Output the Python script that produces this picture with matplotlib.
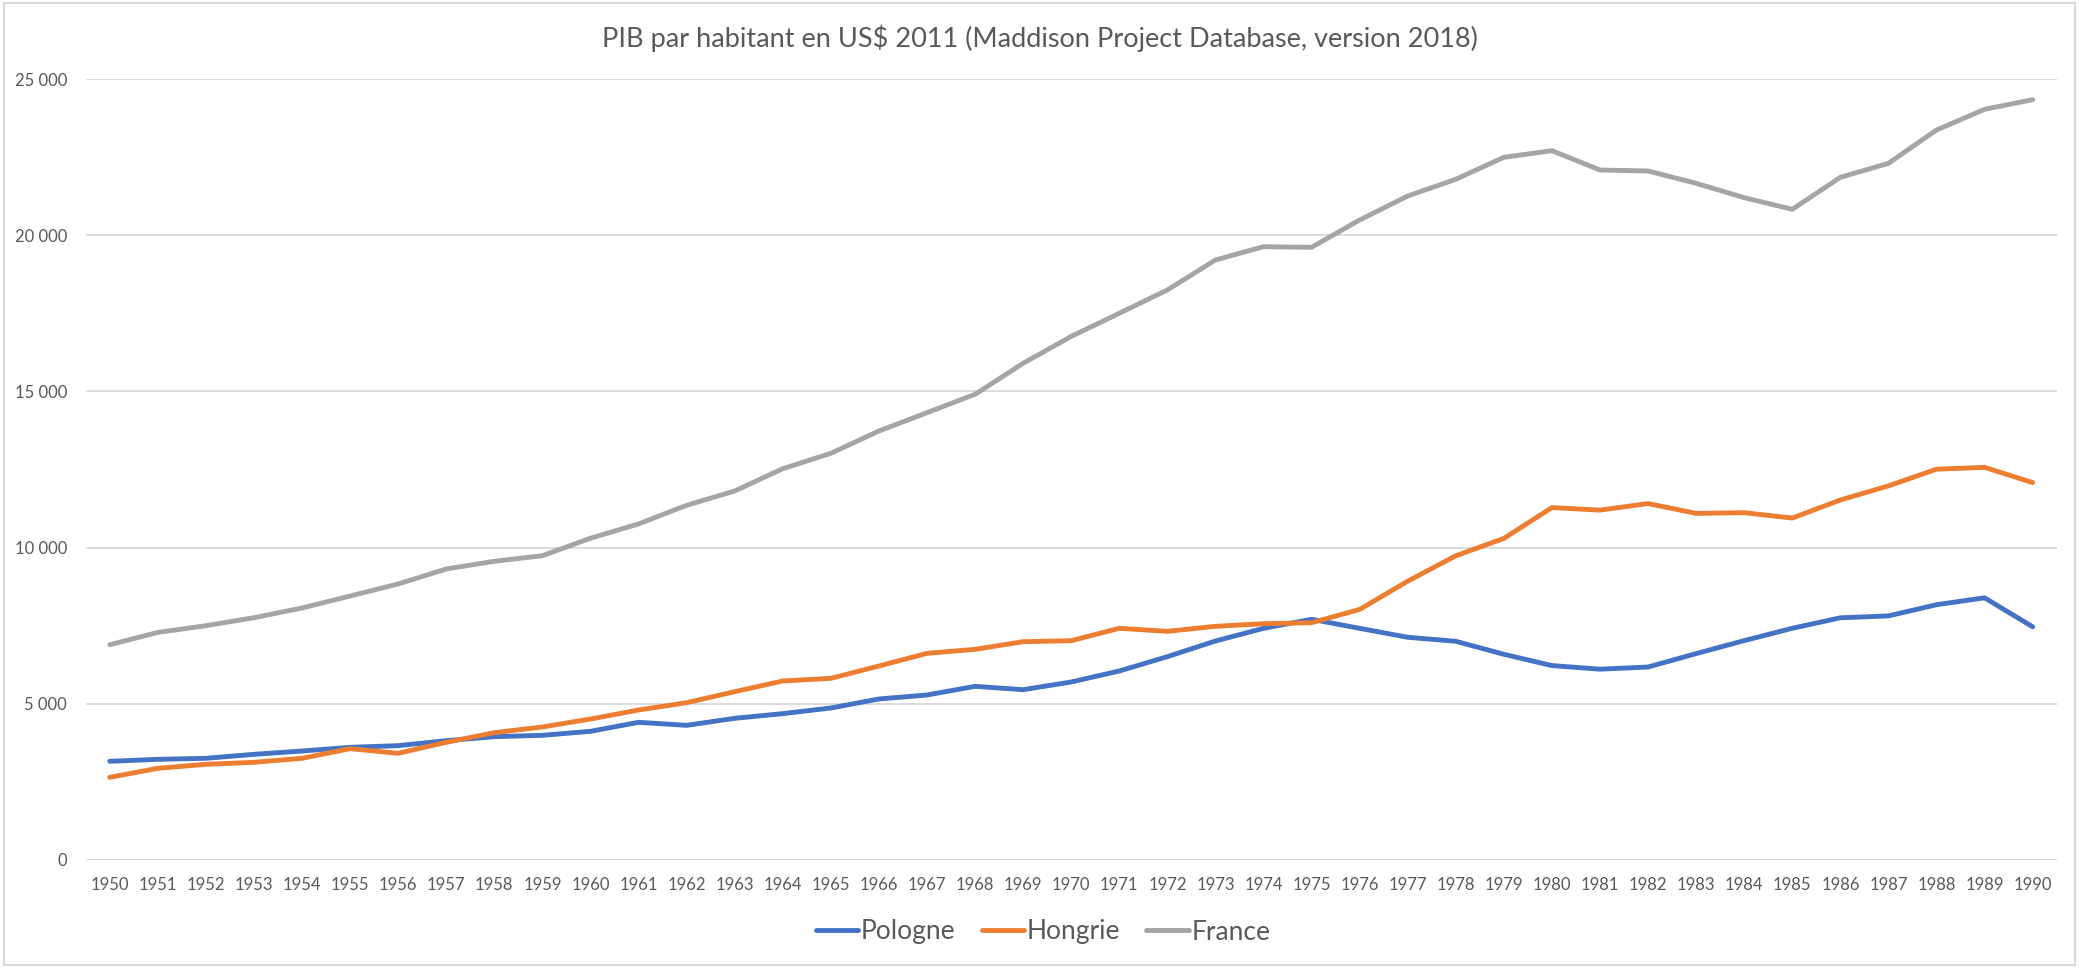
import matplotlib
matplotlib.use("Agg")
import matplotlib.pyplot as plt
from matplotlib.patches import Rectangle
from matplotlib.ticker import FuncFormatter, MultipleLocator

# Donnees (PIB par habitant, US$ 2011)
annees = list(range(1950, 1991))

pologne = [3159, 3223, 3255, 3383, 3489, 3607, 3660, 3820, 3948, 3991,
           4119, 4407, 4311, 4535, 4685, 4866, 5154, 5282, 5559, 5452,
           5698, 6050, 6509, 7010, 7416, 7705, 7416, 7129, 7001, 6585,
           6223, 6108, 6178, 6607, 7023, 7417, 7753, 7814, 8172, 8393,
           7465]

hongrie = [2646, 2935, 3063, 3127, 3255, 3564, 3415, 3767, 4076, 4258,
           4513, 4801, 5036, 5388, 5730, 5815, 6210, 6615, 6743, 6988,
           7020, 7416, 7320, 7481, 7564, 7596, 8020, 8925, 9738, 10294,
           11281, 11200, 11409, 11095, 11117, 10945, 11524, 11976, 12510, 12568,
           12081]

france = [6891, 7285, 7500, 7756, 8067, 8450, 8836, 9316, 9562, 9740,
          10300, 10757, 11354, 11812, 12526, 13018, 13732, 14318, 14907, 15899,
          16760, 17500, 18246, 19206, 19632, 19612, 20487, 21255, 21789, 22493,
          22705, 22087, 22055, 21661, 21201, 20829, 21853, 22301, 23367, 24030,
          24338]

noms = ["Pologne", "Hongrie", "France"]
couleurs = ["#4472C4", "#ED7D31", "#A5A5A5"]
titre = "PIB par habitant en US$ 2011 (Maddison Project Database, version 2018)"

plt.rcParams["font.family"] = ["Lato", "DejaVu Sans"]
gris_texte = "#595959"

fig = plt.figure(figsize=(20.79, 9.68), dpi=100)
ax = fig.add_axes([85.7 / 2079, 1 - 860 / 968, 1971 / 2079, 781 / 968])

for serie, nom, c in zip([pologne, hongrie, france], noms, couleurs):
    ax.plot(annees, serie, color=c, lw=3.5, label=nom,
            solid_joinstyle="round", solid_capstyle="round", zorder=3)

ax.set_xlim(1949.5, 1990.5)
ax.set_ylim(0, 25000)
ax.set_xticks(annees)
ax.set_xticklabels([str(a) for a in annees])
ax.yaxis.set_major_locator(MultipleLocator(5000))
ax.yaxis.set_major_formatter(FuncFormatter(lambda v, p: f"{int(v):,}".replace(",", " ")))

ax.grid(axis="y", color="#D9D9D9", lw=1.3, zorder=0)
ax.set_axisbelow(True)
for s in ax.spines.values():
    s.set_visible(False)
ax.tick_params(axis="both", length=0, labelsize=12, colors=gris_texte)
ax.tick_params(axis="x", pad=12.5)
ax.tick_params(axis="y", pad=13.5)

fig.text(0.5, 1 - 38 / 968, titre, ha="center", va="center",
         fontsize=19.5, color=gris_texte)

fig.legend(loc="center", bbox_to_anchor=(1043 / 2079, 1 - 932 / 968), ncol=3,
           frameon=False, fontsize=19, handlelength=1.6, handletextpad=0.1,
           columnspacing=1.0, labelcolor=gris_texte)

# cadre de la zone de graphique
fig.patches.append(Rectangle((0.002, 0.003), 0.996, 0.994, transform=fig.transFigure,
                             fill=False, edgecolor="#D9D9D9", lw=1.5))

fig.savefig("out.png", dpi=100, facecolor="white")
